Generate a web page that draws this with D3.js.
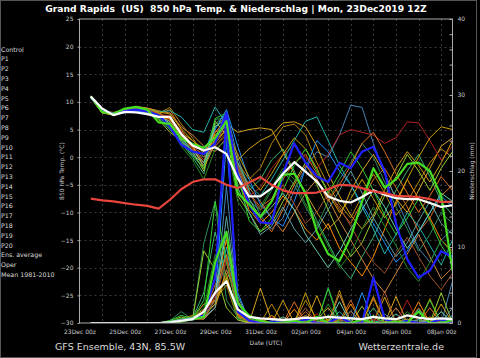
<!DOCTYPE html>
<html>
<head>
<meta charset="utf-8">
<title>GFS Ensemble Grand Rapids</title>
<script src="https://cdn.jsdelivr.net/npm/d3@7"></script>
<style>
  body { margin: 0; background: #000; }
  svg { display: block; font-family: "DejaVu Sans", sans-serif; }
</style>
</head>
<body>
<svg id="chart" width="480" height="358"></svg>
<script>
// forecast hours since 23Dec 00z (12-hourly from the 12Z run)
const hours = [12, 24, 36, 48, 60, 72, 84, 96, 108, 120, 132, 144, 156, 168, 180, 192, 204,
  216, 228, 240, 252, 264, 276, 288, 300, 312, 324, 336, 348, 360, 372, 384, 396];

const dateTickHours = [0, 48, 96, 144, 192, 240, 288, 336, 384];
const dateTickLabels = ["23Dec 00z", "25Dec 00z", "27Dec 00z", "29Dec 00z", "31Dec 00z",
  "02Jan 00z", "04Jan 00z", "06Jan 00z", "08Jan 00z"];
const tempTicks = [25, 20, 15, 10, 5, 0, -5, -10, -15, -20, -25, -30];
const precipTicks = [0, 2, 4, 6, 8, 10, 12, 14, 16, 18, 20, 22, 24, 26, 28, 30, 32, 34, 36, 38, 40];

const legendLabels = ["Control", "P1", "P2", "P3", "P4", "P5", "P6", "P7", "P8", "P9", "P10",
  "P11", "P12", "P13", "P14", "P15", "P16", "P17", "P18", "P19", "P20",
  "Ens. average", "Oper", "Mean 1981-2010"];

// 850 hPa temperature (°C)
const controlTemp = [10.9, 8.6, 7.8, 8.4, 8.6, 8.3, 7.6, 5.5, 2.3, 1.0, 0.6, 2.5, 8.0, -3.0, -8.5, -11.8, -12.0,
  -3.0, 2.5, -1.0, -3.5, -4.5, -1.0, -2.0, 1.0, 1.9, -2.5, -12.0, -18.5, -21.8, -20.5, -17.0, -18.0];
const operTemp = [11.0, 8.2, 7.8, 8.8, 9.1, 8.6, 6.3, 6.0, 3.4, 2.4, 1.7, 3.5, 6.5, -6.5, -8.5, -10.8, -8.0,
  -3.2, -3.0, -6.5, -13.5, -17.5, -18.8, -14.5, -8.0, -2.0, -5.5, -4.0, -1.2, -1.0, -2.5, -7.0, -20.5];
const avgTemp = [11.0, 8.8, 7.6, 8.2, 8.1, 7.8, 7.3, 7.3, 4.2, 2.1, 1.2, 1.8, 0.6, -3.8, -7.1, -7.1, -5.6,
  -3.0, -0.9, -2.6, -4.4, -7.1, -7.9, -8.2, -7.2, -6.0, -6.8, -7.4, -7.6, -7.6, -8.3, -9.0, -8.7];
const climateTemp = [-7.5, -7.8, -8.0, -8.3, -8.6, -8.8, -9.3, -7.7, -5.8, -4.5, -4.0, -4.0, -5.0, -5.6, -4.6, -3.6, -5.0,
  -6.0, -6.5, -6.5, -6.4, -5.8, -5.0, -5.1, -5.6, -6.2, -6.5, -7.0, -7.1, -7.2, -7.6, -8.1, -8.1];

const memberTemp = [
  [11.0, 8.2, 7.9, 8.3, 8.7, 8.4, 7.8, 8.6, 5.0, 2.0, -1.0, 5.5, 7.5, -2.0, -6.5, -9.0, -7.5, -4.0, -1.0, 0.5, -3.0, -6.0, -9.5, -12.0, -8.0, -4.0, -2.0, -5.5, -9.0, -13.5, -11.0, -7.0, -5.0],
  [10.8, 8.0, 7.6, 8.2, 8.9, 8.8, 8.0, 7.0, 4.5, 3.0, 1.5, 4.0, 6.0, 4.5, 5.0, 5.3, 5.0, 1.0, -3.0, -6.5, -10.0, -13.0, -11.0, -6.0, -2.5, 0.5, -3.0, -7.5, -10.0, -6.0, -2.0, 2.0, 3.5],
  [10.9, 8.1, 7.8, 8.4, 8.6, 8.2, 7.6, 6.0, 3.5, 1.0, 0.0, 6.8, 7.2, -5.0, -8.0, -9.5, -6.0, -2.5, -5.0, -9.0, -12.5, -8.0, -4.0, -1.0, 2.5, 0.0, -4.5, -9.0, -13.0, -17.0, -14.0, -10.0, -12.0],
  [10.7, 8.3, 7.9, 8.1, 8.5, 8.0, 7.2, 5.5, 3.0, 0.5, -2.0, 3.5, 8.2, 0.0, -6.0, -10.5, -13.0, -11.0, -6.0, -2.0, 1.0, 0.0, 4.0, 9.4, 9.0, 2.5, -3.0, -7.5, -12.0, -16.5, -19.0, -15.0, -13.0],
  [11.1, 8.0, 7.7, 8.5, 9.0, 8.6, 7.9, 9.0, 6.0, 3.5, 0.5, 2.0, 4.0, -1.0, -4.0, -2.0, 2.5, 5.5, 6.0, 4.0, -1.0, -5.0, -8.5, -11.0, -7.0, -3.0, -6.5, -10.5, -8.0, -4.5, -1.0, 1.5, 0.0],
  [10.9, 8.4, 8.0, 8.2, 8.8, 8.5, 7.4, 7.0, 4.0, 1.5, -1.5, 4.5, 6.8, -3.5, -9.5, -12.0, -10.0, -7.0, -9.5, -13.0, -15.0, -12.0, -16.5, -19.0, -21.5, -18.0, -13.0, -8.0, -4.0, -7.5, -11.0, -15.0, -17.0],
  [10.8, 8.0, 7.9, 8.3, 8.5, 8.1, 7.0, 5.0, 2.5, 0.0, -3.0, 6.0, 7.8, -1.5, -6.0, -4.0, -0.5, 1.5, -2.5, -7.0, -11.5, -15.5, -19.5, -22.0, -18.0, -14.5, -10.0, -6.0, -2.5, 0.5, -3.5, -8.0, -10.5],
  [11.0, 8.1, 7.8, 8.6, 9.2, 8.9, 8.4, 8.0, 5.5, 4.0, 2.0, 1.0, 3.5, -1.0, -5.5, -8.0, -11.0, -13.5, -10.0, -6.5, -4.0, -7.5, -11.5, -15.0, -18.5, -22.0, -24.5, -21.0, -17.5, -14.0, -18.0, -22.0, -20.0],
  [10.7, 8.2, 7.7, 8.0, 8.4, 7.9, 7.3, 6.5, 4.0, 2.5, 1.0, 5.0, 8.6, 2.0, -4.0, -8.5, -11.0, -12.5, -8.0, -2.0, 3.0, 1.0, -2.5, -5.0, -8.5, -12.0, -15.5, -19.0, -17.0, -13.5, -10.0, -7.0, -9.0],
  [10.9, 8.3, 7.9, 8.4, 8.7, 8.3, 7.7, 7.5, 4.5, 1.5, -0.5, 3.0, 5.5, -2.5, -7.0, -5.5, -2.0, 0.5, 2.0, 0.0, -2.0, 0.5, 4.0, 5.0, 4.5, 4.0, 2.5, 3.5, 6.4, 6.2, 3.0, -0.5, 2.0],
  [11.0, 8.0, 7.8, 8.2, 8.6, 8.1, 6.8, 4.5, 3.0, 1.0, -2.5, 6.5, 4.0, -7.0, -10.0, -13.5, -12.0, -8.0, -4.5, -1.0, -5.0, -9.5, -14.0, -18.0, -15.5, -11.0, -7.0, -3.5, 0.5, -2.5, -6.0, -2.0, 1.0],
  [10.8, 8.3, 8.0, 8.4, 8.9, 8.7, 8.2, 8.4, 7.3, 5.0, 4.5, 9.1, 6.0, -1.0, -5.0, -7.0, -4.0, -0.5, 3.0, 6.5, 7.3, 3.0, -1.5, -5.0, -9.0, -13.0, -17.5, -14.0, -10.0, -12.5, -16.0, -19.5, -15.0],
  [10.9, 8.1, 7.7, 8.3, 8.8, 8.5, 7.5, 6.5, 3.8, 2.0, -2.0, 2.5, 5.0, -0.5, 1.5, 3.0, 4.0, 6.2, 6.4, 5.5, 2.0, -3.0, -7.0, -10.5, -13.0, -10.5, -6.0, -2.0, 1.0, -1.5, -4.5, -1.0, 3.0],
  [11.0, 8.2, 7.9, 8.5, 8.9, 8.4, 7.1, 5.8, 2.0, -0.5, -4.0, 1.5, 3.0, -8.0, -11.0, -9.0, -5.5, -2.0, -4.0, -8.5, -12.0, -16.0, -20.0, -17.5, -13.0, -9.0, -12.5, -16.0, -20.0, -22.5, -19.0, -15.0, -17.5],
  [10.7, 8.0, 7.8, 8.1, 8.6, 8.2, 7.6, 6.8, 4.2, 1.8, 0.5, 4.5, 5.5, -4.0, -8.5, -11.0, -13.5, -9.5, -5.0, -1.5, -4.0, -8.0, -5.0, -1.5, 2.5, 4.5, 1.0, -3.0, -6.5, -10.0, -7.0, -3.5, -6.0],
  [10.9, 8.2, 7.8, 8.2, 8.6, 8.1, 7.4, 6.2, 3.2, 0.8, -1.5, 3.0, 6.0, -5.5, -10.0, -14.0, -12.5, -9.0, -13.0, -15.5, -13.0, -9.5, -6.0, -2.5, -6.5, -11.0, -14.5, -18.0, -15.5, -11.5, -8.0, -12.0, -14.0],
  [11.1, 8.4, 8.1, 8.6, 9.1, 8.8, 8.2, 7.8, 5.2, 3.0, 1.0, 3.0, 5.0, 0.5, -3.5, -6.0, -3.0, 0.5, 3.5, 1.5, -2.0, -6.5, -10.0, -7.5, -4.0, -7.5, -11.0, -8.5, -4.0, 0.0, 3.5, 5.5, 5.0],
  [10.8, 8.1, 7.7, 8.3, 8.7, 8.4, 7.3, 5.2, 2.8, 0.3, -2.0, 7.0, 8.0, -3.0, -11.5, -13.5, -11.0, -6.0, -1.5, 1.5, -2.5, -6.5, -3.0, 1.0, -2.0, -6.0, -10.5, -14.0, -11.0, -7.5, -11.5, -16.0, -19.0],
  [10.9, 8.2, 7.9, 8.4, 8.8, 8.6, 7.8, 7.2, 4.8, 2.2, 0.0, 2.0, 4.5, -1.5, -6.5, -9.5, -8.0, -5.0, -8.5, -12.0, -10.0, -6.5, -9.0, -12.5, -16.0, -19.0, -21.0, -17.5, -14.5, -18.0, -21.5, -24.0, -21.0],
  [11.0, 8.3, 8.0, 8.3, 8.7, 8.3, 7.5, 6.0, 3.5, 1.2, -1.0, 5.5, 7.0, -2.5, -7.5, -11.0, -9.0, -6.5, -9.5, -14.0, -17.0, -20.0, -17.0, -13.0, -9.5, -6.0, -9.0, -13.0, -16.5, -13.5, -10.0, -6.5, -8.0]
];

// precipitation (mm per 12 h)
const controlPrecip = [0, 0, 0, 0, 0, 0, 0, 0, 0.3, 0.5, 1.0, 6.0, 27.0, 1.5, 0.3, 0, 0.2, 0, 0, 0.5, 0, 0, 0.8, 0, 0, 6.0, 0.5, 0, 0.3, 0, 0, 0.5, 0];
const operPrecip = [0, 0, 0, 0, 0, 0, 0, 0, 0.2, 0.5, 0.8, 8.0, 12.0, 2.6, 1.0, 0.3, 0, 0, 0.3, 0, 0.8, 0, 0, 0, 0.5, 0, 0, 0.2, 0, 1.5, 0, 0, 0.4];
const avgPrecip = [0, 0, 0, 0, 0, 0, 0, 0.1, 0.3, 0.5, 1.5, 4.0, 5.5, 1.8, 0.8, 0.6, 0.5, 0.4, 0.5, 0.7, 0.6, 0.8, 0.7, 0.6, 0.5, 0.8, 0.6, 0.5, 1.0, 0.7, 0.5, 0.6, 0.5];

const memberPrecip = [
  [0, 0, 0, 0, 0, 0, 0, 0.2, 0.5, 0.8, 1.2, 5.0, 9.0, 1.0, 0.2, 0, 0, 0.5, 0, 1.5, 0, 0, 0.3, 3.0, 0, 0, 0.5, 0, 0, 2.0, 0, 0, 0.3],
  [0, 0, 0, 0, 0, 0, 0, 0, 0.3, 0.6, 2.5, 3.0, 6.0, 0.5, 0, 4.6, 0.3, 0, 0, 0, 0.5, 2.0, 0, 0, 0.5, 0, 0, 3.5, 0, 0, 0.8, 0, 0],
  [0, 0, 0, 0, 0, 0, 0, 0.3, 1.5, 0.5, 10.5, 16.0, 3.0, 0.8, 0, 0, 0.2, 0, 0.5, 0, 0, 4.7, 0.5, 0, 0, 0.3, 0, 0, 0.5, 0, 0, 1.5, 0],
  [0, 0, 0, 0, 0, 0, 0, 0, 0.2, 0.4, 0.8, 2.0, 18.0, 2.5, 0.5, 0, 0, 0.3, 0, 0, 0.2, 0, 0, 0.8, 0, 0, 1.2, 0, 0, 0, 0.5, 0, 5.5],
  [0, 0, 0, 0, 0, 0, 0, 0.1, 0.6, 1.0, 0.5, 3.0, 5.0, 0.5, 0.2, 0, 2.5, 0, 0, 3.0, 0.5, 0, 4.3, 0, 0, 0.8, 0, 0.5, 0, 0, 3.2, 0, 0],
  [0, 0, 0, 0, 0, 0, 0, 0, 0.4, 0.8, 1.5, 4.0, 11.0, 1.2, 0, 0.5, 0, 0, 1.8, 0, 0, 0.3, 0, 2.5, 0, 0, 0, 0.6, 0, 2.8, 0, 0, 0.4],
  [0, 0, 0, 0, 0, 0, 0, 0.2, 0.3, 0.6, 4.0, 12.0, 6.0, 0.6, 0.2, 0, 0, 0.4, 0, 0, 0, 1.0, 0, 0, 0, 2.0, 0, 0, 0, 0.5, 0, 0, 0],
  [0, 0, 0, 0, 0, 0, 0, 0, 0.2, 0.5, 0.5, 2.0, 7.0, 3.0, 0.4, 0.2, 0, 0, 0, 1.0, 0, 0, 3.8, 0, 0.5, 0, 0, 2.0, 0, 0, 0.6, 0, 0],
  [0, 0, 0, 0, 0, 0, 0, 0, 0.3, 0.6, 1.0, 3.0, 24.0, 4.0, 0.3, 0, 0, 0.4, 0, 0, 0, 0, 0, 0, 4.0, 0, 0, 0, 0.5, 0, 0, 0, 1.0],
  [0, 0, 0, 0, 0, 0, 0, 0.1, 0.4, 0.7, 1.0, 3.5, 8.0, 1.5, 0.5, 0, 0.8, 0, 0, 0, 1.2, 0, 0, 0, 0, 0.5, 0, 0, 3.0, 0, 0, 0, 0.2],
  [0, 0, 0, 0, 0, 0, 0, 0.2, 0.8, 0.4, 9.5, 7.0, 2.0, 0.4, 0, 0, 0, 0.3, 0.6, 0, 0, 0, 0, 0, 2.2, 0, 0, 0, 0, 0, 0, 4.0, 0],
  [0, 0, 0, 0, 0, 0, 0, 0, 0.2, 0.5, 1.0, 2.5, 10.0, 2.0, 0.6, 0, 0, 0.2, 0, 0.3, 0, 0, 1.5, 0, 0, 0, 0.5, 0, 0, 1.8, 0, 0, 0],
  [0, 0, 0, 0, 0, 0, 0, 0.1, 0.5, 0.8, 1.8, 3.0, 6.5, 0.8, 0, 0.3, 0, 3.0, 0, 0, 3.6, 0, 0, 0, 0, 0, 3.4, 0, 0, 0, 0, 2.5, 0],
  [0, 0, 0, 0, 0, 0, 0, 0.3, 0.6, 0.8, 2.0, 9.0, 6.0, 0.5, 0.3, 0, 0.2, 0, 0, 0, 0, 2.5, 0, 0, 0, 0, 0, 0, 1.5, 0, 0, 0, 0.8],
  [0, 0, 0, 0, 0, 0, 0, 0, 0.4, 0.5, 1.2, 4.0, 9.0, 1.0, 0.2, 0, 0, 0, 2.8, 0, 0, 0, 0.5, 0, 0, 3.2, 0, 0, 0, 0, 2.0, 0, 0],
  [0, 0, 0, 0, 0, 0, 0, 0, 0.3, 0.6, 0.7, 2.0, 14.0, 3.5, 0.4, 0, 0, 0.5, 0, 0, 0.8, 0, 0, 1.6, 0, 0, 0, 0, 0, 0.4, 0, 0, 2.0],
  [0, 0, 0, 0, 0, 0, 0, 0.2, 0.4, 0.6, 0.9, 2.5, 6.0, 1.2, 0.2, 0, 1.0, 0, 0, 4.0, 0, 0.5, 0, 0, 0, 3.5, 0, 0, 0.5, 0, 0, 0, 0.5],
  [0, 0, 0, 0, 0, 0, 0, 0.3, 1.0, 0.6, 3.0, 16.0, 8.0, 1.5, 0.6, 0.2, 0, 0, 0.5, 0, 0, 4.5, 0, 0, 0, 1.0, 0, 0, 0, 0, 3.0, 0, 0],
  [0, 0, 0, 0, 0, 0, 0, 0.1, 0.3, 0.5, 0.8, 3.0, 8.5, 2.0, 0.5, 0, 0, 0, 0, 2.0, 0, 0, 0, 1.5, 0, 0, 4.2, 0, 0, 0, 0, 0, 0.5],
  [0, 0, 0, 0, 0, 0, 0, 0.2, 0.5, 0.7, 1.5, 4.0, 12.0, 1.8, 0.3, 0, 0, 0.8, 0, 0, 0, 0, 2.8, 0, 0, 0, 0, 1.2, 0, 0, 0, 1.5, 0]
];

const memberColors = ["#d2691e", "#daa520", "#2e8b57", "#4682b4", "#b8860b", "#ff8c00", "#3cb371",
  "#cd853f", "#1e90ff", "#b22222", "#9acd32", "#20b2aa", "#d4a017", "#228b22", "#e07020",
  "#5f9ea0", "#c8a000", "#32cd32", "#a0522d", "#66cdaa"];

const svg = d3.select("#chart");
const plotL = 79.5, plotR = 452.5, plotT = 19, plotB = 323;

svg.append("rect").attr("width", 480).attr("height", 358).attr("fill", "#000");
svg.append("rect").attr("x", 0.5).attr("y", 0.5).attr("width", 476).attr("height", 357)
  .attr("fill", "none").attr("stroke", "#555");

const x = d3.scaleLinear().domain([0, 396]).range([plotL, plotR]);
const y = d3.scaleLinear().domain([-30, 25]).range([plotB, plotT]);
const yp = d3.scaleLinear().domain([0, 40]).range([plotB, plotT]);

// grid
const grid = svg.append("g").attr("stroke", "#3a3a3a").attr("stroke-dasharray", "2,3").attr("stroke-width", 1);
grid.selectAll("line.v").data(d3.range(24, 396, 24)).enter().append("line")
  .attr("x1", d => Math.round(x(d)) + 0.5).attr("x2", d => Math.round(x(d)) + 0.5)
  .attr("y1", plotT).attr("y2", plotB);
grid.selectAll("line.h").data(tempTicks.slice(1, -1)).enter().append("line")
  .attr("y1", d => Math.round(y(d)) + 0.5).attr("y2", d => Math.round(y(d)) + 0.5)
  .attr("x1", plotL).attr("x2", plotR);

svg.append("clipPath").attr("id", "plot").append("rect")
  .attr("x", plotL).attr("y", plotT).attr("width", plotR - plotL).attr("height", plotB - plotT);

const plot = svg.append("g").attr("clip-path", "url(#plot)");

const tempLine = d3.line().x((d, i) => x(hours[i])).y(d => y(d));
const precipLine = d3.line().x((d, i) => x(hours[i])).y(d => yp(d));

// members: precipitation then temperature
memberPrecip.forEach((s, i) => {
  plot.append("path").attr("d", precipLine(s)).attr("fill", "none")
    .attr("stroke", memberColors[i]).attr("stroke-width", 1);
});
memberTemp.forEach((s, i) => {
  plot.append("path").attr("d", tempLine(s)).attr("fill", "none")
    .attr("stroke", memberColors[i]).attr("stroke-width", 1);
});

const thick = [
  [controlPrecip, precipLine, "#2020ff"],
  [controlTemp, tempLine, "#2020ff"],
  [operPrecip, precipLine, "#44dd22"],
  [operTemp, tempLine, "#44dd22"],
  [avgPrecip, precipLine, "#ffffff"],
  [avgTemp, tempLine, "#ffffff"],
  [climateTemp, tempLine, "#e8453c"]
];
thick.forEach(t => {
  plot.append("path").attr("d", t[1](t[0])).attr("fill", "none")
    .attr("stroke", t[2]).attr("stroke-width", 2.2).attr("stroke-linejoin", "round");
});

// frame
svg.append("rect").attr("x", plotL).attr("y", plotT).attr("width", plotR - plotL).attr("height", plotB - plotT)
  .attr("fill", "none").attr("stroke", "#aaa").attr("stroke-width", 1);

// axes
const yAxis = d3.axisLeft(y).tickValues(tempTicks).tickSize(2).tickPadding(4);
const gy = svg.append("g").attr("transform", `translate(${plotL},0)`).call(yAxis);
const pAxis = d3.axisRight(yp).tickValues(precipTicks).tickSizeInner(-3).tickSizeOuter(0).tickPadding(5)
  .tickFormat(d => d % 10 === 0 ? d : "");
const gp = svg.append("g").attr("transform", `translate(${plotR},0)`).call(pAxis);
const xAxis = d3.axisBottom(x).tickValues(dateTickHours).tickSize(0).tickPadding(7)
  .tickFormat((d, i) => dateTickLabels[i]);
const gx = svg.append("g").attr("transform", `translate(0,${plotB})`).call(xAxis);
[gy, gp, gx].forEach(g => {
  g.select(".domain").remove();
  g.selectAll("line").attr("stroke", "#aaa");
  g.selectAll("text").attr("fill", "#ccc").style("font-size", "6px").style("font-family", "DejaVu Sans");
});

// titles
svg.append("text").attr("x", 236).attr("y", 12).attr("text-anchor", "middle")
  .style("white-space", "pre").attr("fill", "#fff").style("font-weight", "bold").style("font-size", "9.2px")
  .text("Grand Rapids  (US)  850 hPa Temp. & Niederschlag | Mon, 23Dec2019 12Z");
svg.append("text").attr("transform", "translate(64,171) rotate(-90)").attr("text-anchor", "middle")
  .attr("fill", "#ccc").style("font-size", "6px").text("850 hPa Temp. (°C)");
svg.append("text").attr("transform", "translate(474,171) rotate(-90)").attr("text-anchor", "middle")
  .attr("fill", "#ccc").style("font-size", "6px").text("Niederschlag (mm)");
svg.append("text").attr("x", 266).attr("y", 345).attr("text-anchor", "middle")
  .attr("fill", "#ccc").style("font-size", "6px").text("Date (UTC)");
svg.append("text").attr("x", 55).attr("y", 350).attr("fill", "#ddd").style("font-size", "9.5px")
  .text("GFS Ensemble, 43N, 85.5W");
svg.append("text").attr("x", 444).attr("y", 350).attr("text-anchor", "end").attr("fill", "#ddd").style("font-size", "9.5px")
  .text("Wetterzentrale.de");

// legend
svg.append("g").selectAll("text").data(legendLabels).enter().append("text")
  .attr("x", 1).attr("y", (d, i) => 51.5 + i * 9.8)
  .attr("fill", "#ddd").style("font-size", "6.3px").text(d => d);
</script>
</body>
</html>
